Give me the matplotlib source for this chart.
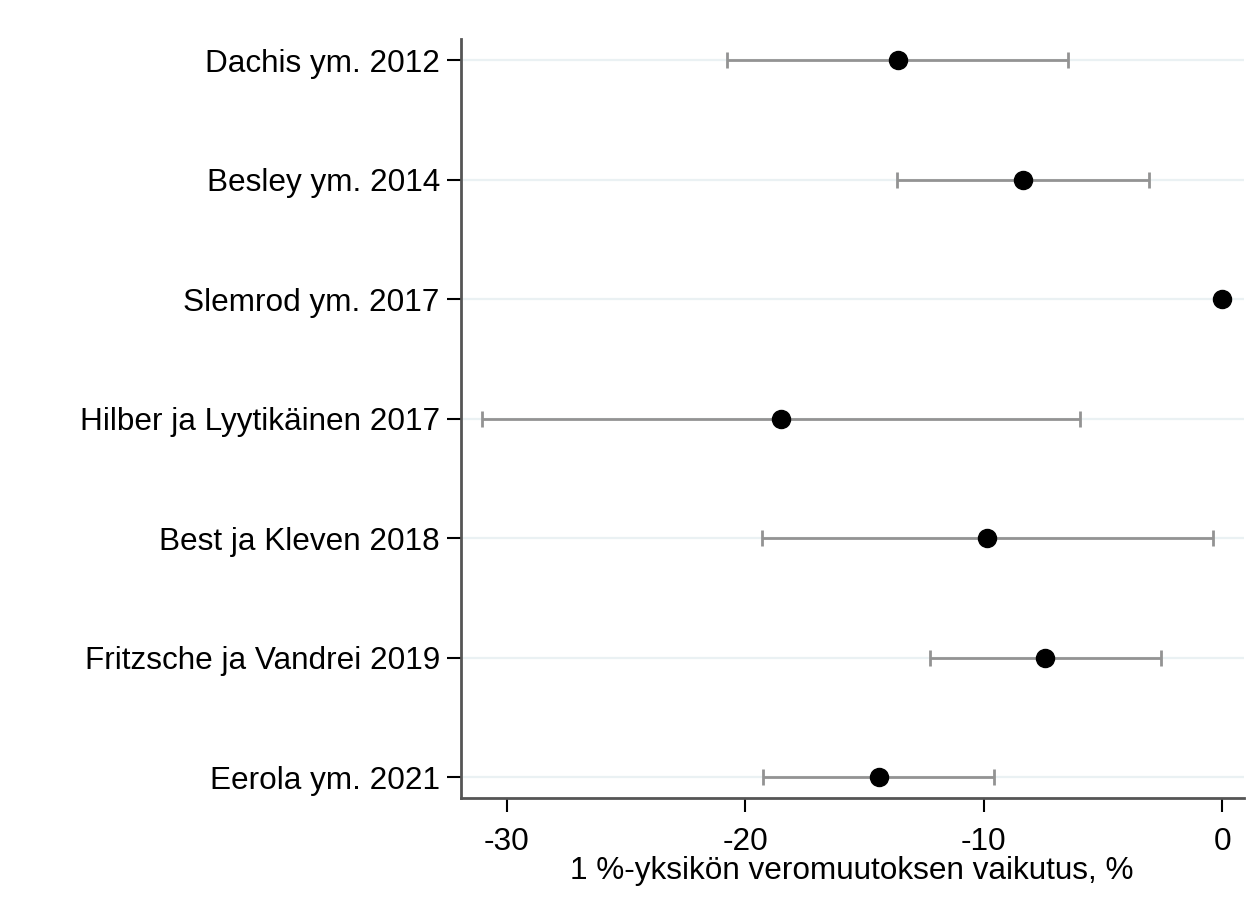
import numpy as np
import matplotlib.pyplot as plt

# Studies and estimated effects (with confidence interval bounds)
studies = ['Dachis ym. 2012', 'Besley ym. 2014', 'Slemrod ym. 2017',
           'Hilber ja Lyytikäinen 2017', 'Best ja Kleven 2018',
           'Fritzsche ja Vandrei 2019', 'Eerola ym. 2021']
estimate = [-13.6, -8.35, 0.0, -18.5, -9.85, -7.45, -14.4]
ci_low = [-20.75, -13.65, 0.0, -31.05, -19.3, -12.25, -19.25]
ci_high = [-6.45, -3.05, 0.0, -5.95, -0.4, -2.55, -9.55]

plt.rcParams['font.family'] = ['Liberation Sans', 'DejaVu Sans']
plt.rcParams['axes.unicode_minus'] = False

fig = plt.figure(figsize=(12.55, 9.17), dpi=100)
ax = fig.add_axes([0.367, 0.130, 0.624, 0.827])

y = np.arange(len(studies))
est = np.array(estimate)
err = [est - np.array(ci_low), np.array(ci_high) - est]

for yi in y:
    ax.axhline(yi, color='#eaf1f3', lw=1.6, zorder=0)

ax.errorbar(est, y, xerr=err, fmt='none', ecolor='#939393',
            elinewidth=2, capsize=5.5, capthick=2, zorder=2)
ax.plot(est, y, 'o', color='black', markersize=13, zorder=3)

ax.set_xlim(-31.93, 0.9)
ax.set_ylim(6.17, -0.175)
ax.set_xticks([-30, -20, -10, 0])
ax.set_yticks(y)
ax.set_yticklabels(studies)
ax.tick_params(axis='both', labelsize=22.7, length=10, width=1.5,
               color='black')
ax.tick_params(axis='y', pad=5)
ax.tick_params(axis='x', pad=11)
ax.set_xlabel('1 %-yksikön veromuutoksen vaikutus, %', fontsize=22.7,
              labelpad=-1)

for side in ['top', 'right']:
    ax.spines[side].set_visible(False)
for side in ['left', 'bottom']:
    ax.spines[side].set_color('#555555')
    ax.spines[side].set_linewidth(2)

fig.savefig('out.png', dpi=100)
